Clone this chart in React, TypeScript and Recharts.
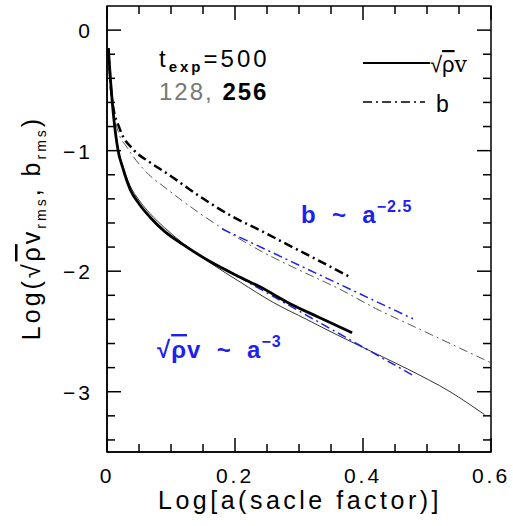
import React from "react";
import { LineChart, Line, XAxis, YAxis } from "recharts";

// sqrt(rho) v, 256^3 run (thick) and 128^3 run (thin)
const rhoV256 = [
  { x: 0.002, y: -0.15 }, { x: 0.006, y: -0.45 }, { x: 0.01, y: -0.7 },
  { x: 0.017, y: -0.99 }, { x: 0.025, y: -1.15 }, { x: 0.036, y: -1.32 },
  { x: 0.05, y: -1.44 }, { x: 0.067, y: -1.55 }, { x: 0.09, y: -1.67 },
  { x: 0.119, y: -1.78 }, { x: 0.161, y: -1.92 }, { x: 0.208, y: -2.05 },
  { x: 0.239, y: -2.13 }, { x: 0.286, y: -2.27 }, { x: 0.33, y: -2.38 },
  { x: 0.383, y: -2.51 },
];
const rhoV128 = [
  { x: 0.002, y: -0.15 }, { x: 0.006, y: -0.45 }, { x: 0.01, y: -0.68 },
  { x: 0.017, y: -0.97 }, { x: 0.025, y: -1.13 }, { x: 0.036, y: -1.29 },
  { x: 0.05, y: -1.41 }, { x: 0.067, y: -1.52 }, { x: 0.09, y: -1.64 },
  { x: 0.119, y: -1.77 }, { x: 0.161, y: -1.93 }, { x: 0.208, y: -2.09 },
  { x: 0.26, y: -2.26 }, { x: 0.312, y: -2.4 }, { x: 0.36, y: -2.53 },
  { x: 0.395, y: -2.62 }, { x: 0.469, y: -2.81 }, { x: 0.536, y: -3.0 },
  { x: 0.59, y: -3.19 },
];
// b_rms, 256^3 (thick) and 128^3 (thin)
const b256 = [
  { x: 0.002, y: -0.15 }, { x: 0.008, y: -0.58 }, { x: 0.02, y: -0.82 },
  { x: 0.041, y: -0.99 }, { x: 0.065, y: -1.09 }, { x: 0.094, y: -1.19 },
  { x: 0.145, y: -1.38 }, { x: 0.197, y: -1.55 }, { x: 0.239, y: -1.66 },
  { x: 0.286, y: -1.79 }, { x: 0.33, y: -1.91 }, { x: 0.38, y: -2.05 },
];
const b128 = [
  { x: 0.002, y: -0.15 }, { x: 0.008, y: -0.58 }, { x: 0.018, y: -0.85 },
  { x: 0.031, y: -0.97 }, { x: 0.06, y: -1.17 }, { x: 0.094, y: -1.32 },
  { x: 0.145, y: -1.52 }, { x: 0.197, y: -1.7 }, { x: 0.25, y: -1.86 },
  { x: 0.3, y: -1.99 }, { x: 0.364, y: -2.15 }, { x: 0.42, y: -2.31 },
  { x: 0.484, y: -2.47 }, { x: 0.54, y: -2.61 }, { x: 0.6, y: -2.76 },
];
// power-law guides
const bFit = [{ x: 0.18, y: -1.65 }, { x: 0.478, y: -2.395 }];
const rhoVFit = [{ x: 0.18, y: -1.97 }, { x: 0.48, y: -2.87 }];

const xMajor = [0, 0.2, 0.4, 0.6];
const xMinor = [0.05, 0.1, 0.15, 0.25, 0.3, 0.35, 0.45, 0.5, 0.55];
const yMajor = [-3, -2, -1, 0];
const yMinor = [-3.4, -3.2, -2.8, -2.6, -2.4, -2.2, -1.8, -1.6, -1.4, -1.2, -0.8, -0.6, -0.4, -0.2];

const FONT = '"Liberation Sans", Arial, sans-serif';
const BLUE = "#1f1fee";
const DASHDOT = "9 4 2 4";
const THIN = 0.001; // axes take no room
const MARGIN = { top: 6, right: 22, bottom: 74, left: 107 };
const PW = 513 - MARGIN.left - MARGIN.right;
const PH = 526 - MARGIN.top - MARGIN.bottom;
const X_DOM: [number, number] = [0, 0.6];
const Y_DOM: [number, number] = [-3.5, 0.2];

// same linear mapping the chart uses, for the inward tick marks of the frame
const px = (v: number) => MARGIN.left + ((v - X_DOM[0]) / (X_DOM[1] - X_DOM[0])) * PW;
const py = (v: number) => MARGIN.top + ((Y_DOM[1] - v) / (Y_DOM[1] - Y_DOM[0])) * PH;

// tick label outside the frame (bottom / left axes)
function TickLabel(props: any) {
  const { x, y, payload, side } = props;
  const txt = String(payload.value).replace("-", "\u2212");
  if (side === "bottom") {
    return <text x={x} y={y + 31} textAnchor="middle" fontSize={21} letterSpacing={3} fontFamily={FONT} fill="#000">{txt}</text>;
  }
  return <text x={x - 14} y={y + 8} textAnchor="end" fontSize={21} letterSpacing={3} fontFamily={FONT} fill="#000">{txt}</text>;
}

function Frame() {
  const top = MARGIN.top, bot = MARGIN.top + PH, left = MARGIN.left, right = MARGIN.left + PW;
  const marks: React.ReactNode[] = [];
  const xs = [...xMajor.map((v) => [v, 14]), ...xMinor.map((v) => [v, 8])];
  const ys = [...yMajor.map((v) => [v, 14]), ...yMinor.map((v) => [v, 8])];
  xs.forEach(([v, len], i) => {
    const X = px(v);
    marks.push(<line key={`xb${i}`} x1={X} y1={bot} x2={X} y2={bot - len} />);
    marks.push(<line key={`xt${i}`} x1={X} y1={top} x2={X} y2={top + len} />);
  });
  ys.forEach(([v, len], i) => {
    const Y = py(v);
    marks.push(<line key={`yl${i}`} x1={left} y1={Y} x2={left + len} y2={Y} />);
    marks.push(<line key={`yr${i}`} x1={right} y1={Y} x2={right - len} y2={Y} />);
  });
  return (
    <g stroke="#000" strokeWidth={1.5} fill="none">
      <rect x={left} y={top} width={PW} height={PH} />
      {marks}
    </g>
  );
}

export default function App() {
  const common = { type: "number" as const, allowDataOverflow: true, interval: 0 as const, tickSize: 0, tickMargin: 0, tickLine: false };
  return (
    <div style={{ position: "absolute", left: 0, top: 0, width: 513, height: 526, background: "#fff" }}>
      <div style={{ position: "absolute", left: 0, top: 0 }}>
        <LineChart width={513} height={526} margin={MARGIN}>
          <XAxis xAxisId="x" dataKey="x" domain={X_DOM} ticks={xMajor} height={THIN} axisLine={{ stroke: "#000", strokeWidth: 1.5 }} {...common}
            tick={(p: any) => <TickLabel {...p} side="bottom" />} />
          <YAxis yAxisId="y" domain={Y_DOM} ticks={yMajor} width={THIN} axisLine={{ stroke: "#000", strokeWidth: 1.5 }} {...common}
            tick={(p: any) => <TickLabel {...p} side="left" />} />

          <Line xAxisId="x" yAxisId="y" data={b128} dataKey="y" type="monotone" stroke="#555" strokeWidth={1}
            strokeDasharray={DASHDOT} dot={false} isAnimationActive={false} />
          <Line xAxisId="x" yAxisId="y" data={rhoV128} dataKey="y" type="monotone" stroke="#333" strokeWidth={1}
            dot={false} isAnimationActive={false} />
          <Line xAxisId="x" yAxisId="y" data={bFit} dataKey="y" type="linear" stroke={BLUE} strokeWidth={1.5}
            strokeDasharray={DASHDOT} dot={false} isAnimationActive={false} />
          <Line xAxisId="x" yAxisId="y" data={rhoVFit} dataKey="y" type="linear" stroke={BLUE} strokeWidth={1.5}
            strokeDasharray={DASHDOT} dot={false} isAnimationActive={false} />
          <Line xAxisId="x" yAxisId="y" data={b256} dataKey="y" type="monotone" stroke="#000" strokeWidth={2.5}
            strokeDasharray={DASHDOT} dot={false} isAnimationActive={false} />
          <Line xAxisId="x" yAxisId="y" data={rhoV256} dataKey="y" type="monotone" stroke="#000" strokeWidth={2.8}
            dot={false} isAnimationActive={false} />
        </LineChart>
      </div>

      {/* frame ticks, titles, annotations and legend */}
      <svg width={513} height={526} style={{ position: "absolute", left: 0, top: 0, pointerEvents: "none" }} fontFamily={FONT}>
        <Frame />
        <text x={300} y={509} textAnchor="middle" fontSize={25} letterSpacing={3.5}>Log[a(sacle factor)]</text>
        <text transform="translate(40,228) rotate(-90)" textAnchor="middle" fontSize={25} letterSpacing={3}>
          Log(√<tspan textDecoration="overline">ρ</tspan>v<tspan fontSize={14} dy={6}>rms</tspan>
          <tspan dy={-6}>, b</tspan><tspan fontSize={14} dy={6}>rms</tspan><tspan dy={-6}>)</tspan>
        </text>

        <text x={159} y={67} fontSize={24} letterSpacing={3}>
          t<tspan fontSize={15} fontWeight="bold" dy={5}>exp</tspan><tspan dy={-5}>=500</tspan>
        </text>
        <text x={159} y={100} fontSize={24} letterSpacing={2}>
          <tspan fill="#777">128,</tspan> <tspan fontWeight="bold">256</tspan>
        </text>

        <line x1={363} y1={63} x2={430} y2={63} stroke="#000" strokeWidth={2} />
        <text x={430} y={72} fontSize={22}>√<tspan textDecoration="overline">ρ</tspan><tspan fontFamily="DejaVu Serif">v</tspan></text>
        <line x1={363} y1={102} x2={425} y2={102} stroke="#000" strokeWidth={1.5} strokeDasharray={DASHDOT} />
        <text x={436} y={112} fontSize={23}>b</text>

        <text x={301} y={223} fontSize={24} fontWeight="bold" fill={BLUE} style={{ whiteSpace: "pre" }} letterSpacing={1}>
          b  ~  a<tspan fontSize={16} dy={-11}>−2.5</tspan>
        </text>
        <text x={157} y={358} fontSize={24} fontWeight="bold" fill={BLUE} style={{ whiteSpace: "pre" }} letterSpacing={1}>
          √<tspan textDecoration="overline">ρ</tspan>v  ~  a<tspan fontSize={16} dy={-11}>−3</tspan>
        </text>
      </svg>
    </div>
  );
}
